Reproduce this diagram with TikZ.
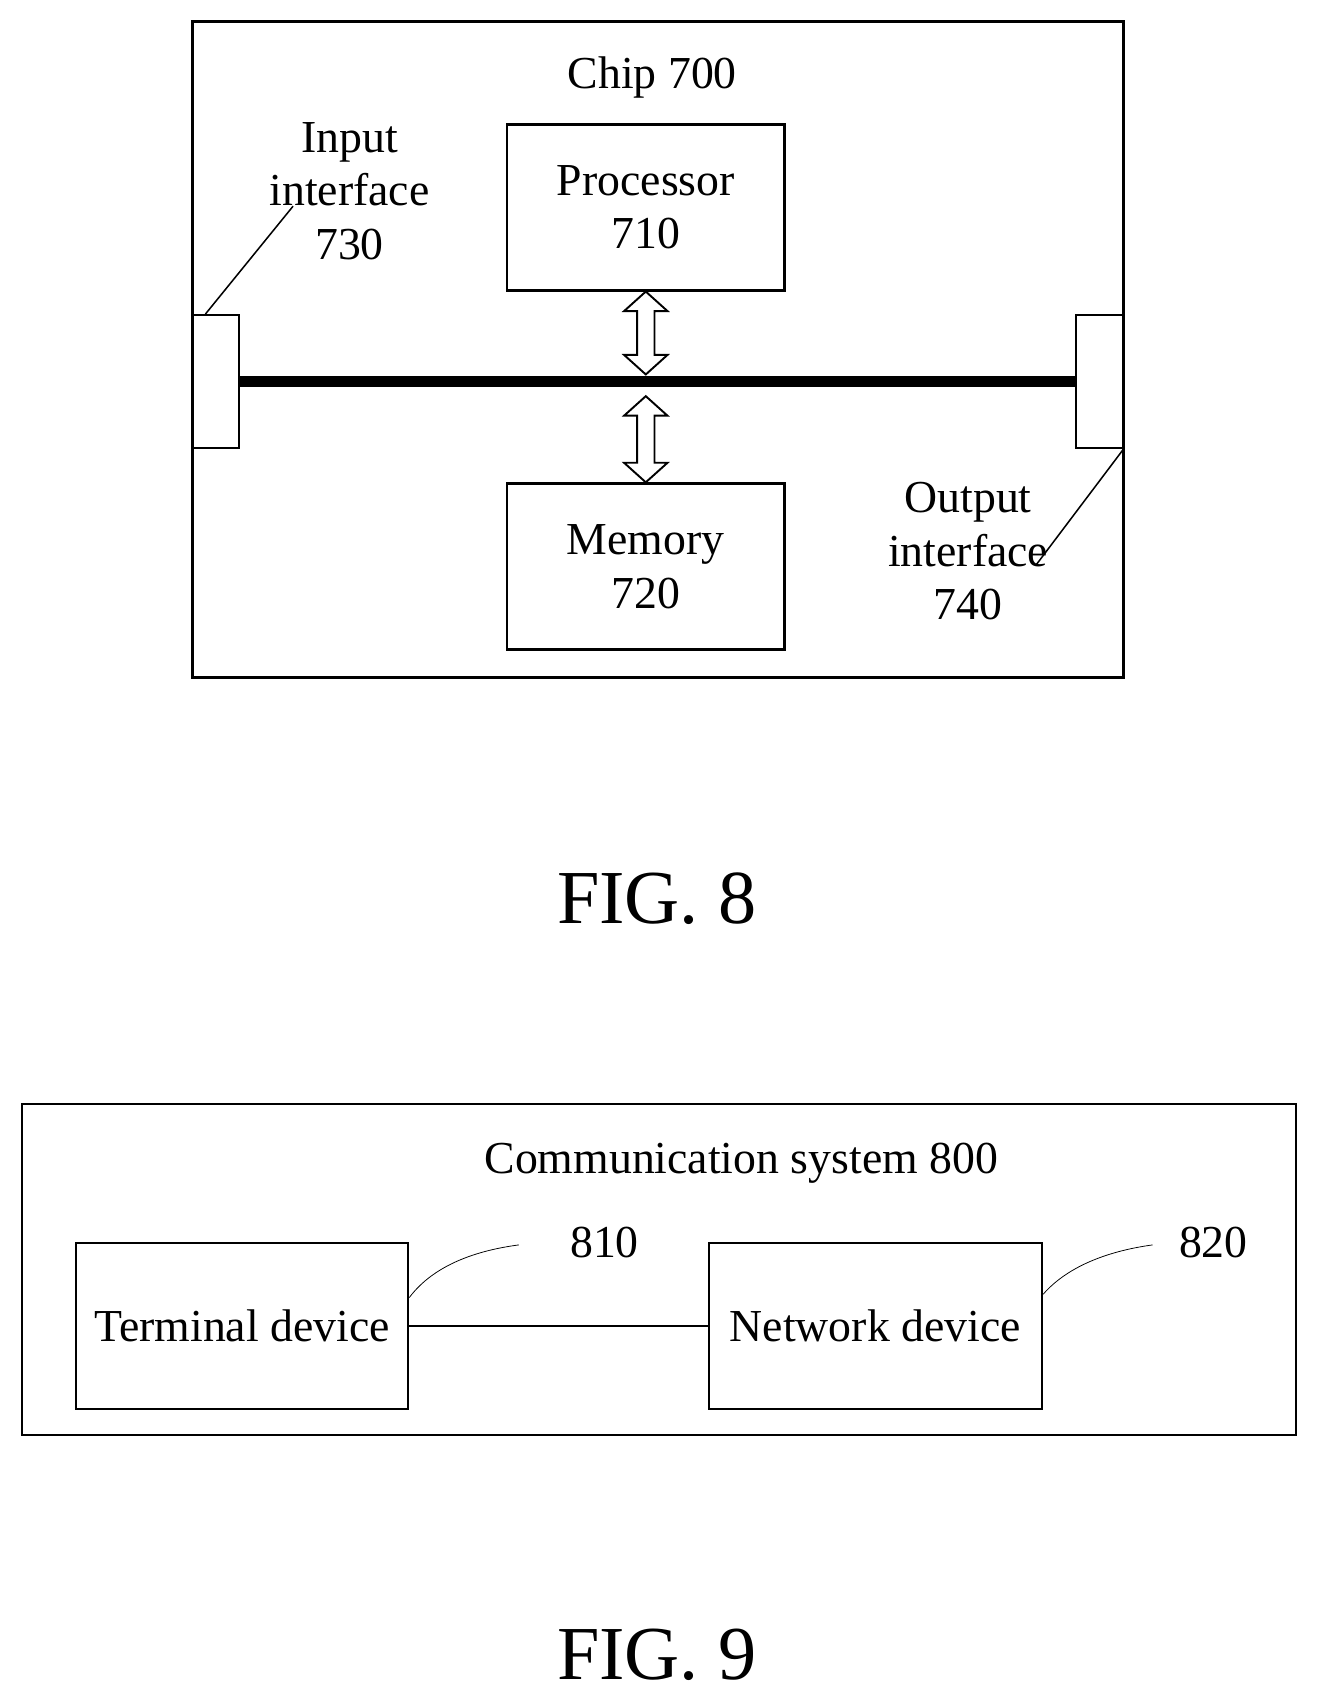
\documentclass[tikz,border=0pt]{standalone}
\usepackage{fontspec}
\setmainfont{Liberation Serif}
\usetikzlibrary{positioning,calc}

\begin{document}
\begin{tikzpicture}[x=0.02cm,y=-0.02cm,
    box/.style={draw,line width=1.3pt,minimum width=5.12cm,minimum height=3.06cm,align=center,font=\fontsize{24}{28}\selectfont},
    port/.style={draw,line width=0.8pt,minimum width=0.86cm,minimum height=2.46cm},
    lbl/.style={align=center,font=\fontsize{24}{28}\selectfont},
    hollow/.style={draw,line width=1pt,fill=white},
    fig/.style={font=\fontsize{40}{44}\selectfont}]
  \useasboundingbox (0,0) rectangle (1215,1570);

  % FIG. 8
  \draw[line width=1.6pt] (177,20) rectangle (1035,624);
  \node[lbl] (chip) at (601,71) {Chip 700};
  \node[box] (proc) at (595,191) {Processor\\710};
  \node[box] (mem) at (595,522) {Memory\\720};
  \node[port] (inp) at (198.5,351.5) {};
  \node[port] (outp) at (1013,351.5) {};
  \draw[line width=6pt] (inp.east) -- (outp.west) coordinate[pos=0.486] (bus);
  % hollow double arrows
  \coordinate (pt) at (proc.south);
  \coordinate (pb) at (595,345);
  \coordinate (mt) at (595,365);
  \coordinate (mb) at (mem.north);
  \path[hollow] (pt) -- ++(20,18) -- ++(-12,0) -- ($(pb)+(8,-18)$) -- ++(12,0) -- (pb)
    -- ++(-20,-18) -- ++(12,0) -- ($(pt)+(-8,18)$) -- ++(-12,0) -- cycle;
  \path[hollow] (mt) -- ++(20,18) -- ++(-12,0) -- ($(mb)+(8,-18)$) -- ++(12,0) -- (mb)
    -- ++(-20,-18) -- ++(12,0) -- ($(mt)+(-8,18)$) -- ++(-12,0) -- cycle;
  \node[lbl] (inlbl) at (322,176) {Input\\interface\\730};
  \node[lbl] (outlbl) at (892,508) {Output\\interface\\740};
  \coordinate (ina) at (270,190);
  \coordinate (outa) at (955,520);
  \draw[line width=0.8pt] (inp.north west) ++(13,0) -- (ina);
  \draw[line width=0.8pt] (outp.south east) -- (outa);
  \node[fig] (fig8) at (605,828) {FIG. 8};

  % FIG. 9
  \draw[line width=1pt] (20,1017) rectangle (1194,1322);
  \node[lbl] (sys) at (683,1072) {Communication system 800};
  \node[box,minimum width=6.12cm] (term) at (223,1221.5) {Terminal device};
  \node[box,minimum width=6.14cm] (net) at (806.5,1221.5) {Network device};
  \draw[line width=1pt] (term) -- (net);
  \node[lbl] (n810) at (557,1145) {810};
  \node[lbl] (n820) at (1118,1145) {820};
  \coordinate (a810) at (478,1147);
  \coordinate (a820) at (1062,1147);
  \draw[line width=0.4pt] ([yshift=0.52cm]term.east) .. controls (400,1165) and (440,1152) .. (a810);
  \draw[line width=0.4pt] ([yshift=0.58cm]net.east) .. controls (985,1165) and (1025,1152) .. (a820);
  \node[fig] (fig9) at (605,1525) {FIG. 9};
\end{tikzpicture}
\end{document}
